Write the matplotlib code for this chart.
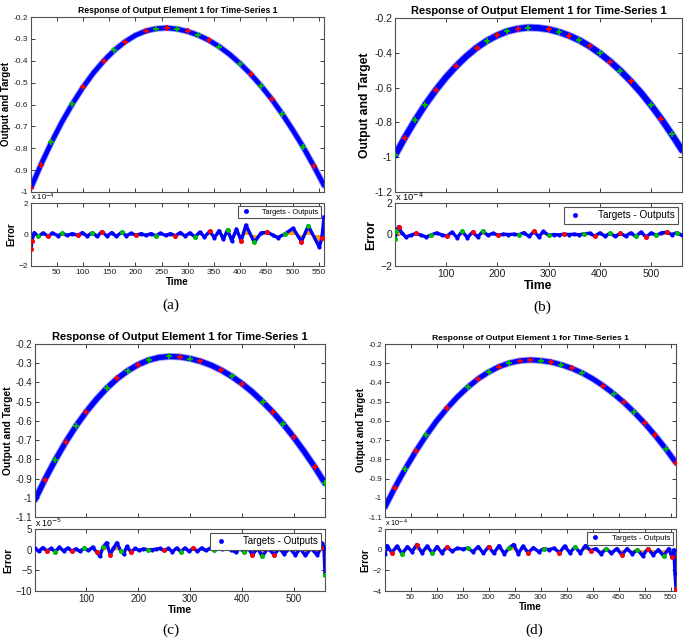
import numpy as np
import matplotlib
matplotlib.use('Agg')
import matplotlib.pyplot as plt
from matplotlib.lines import Line2D

plt.rcParams['font.family'] = ['Liberation Sans', 'DejaVu Sans']

# ---------------- data ----------------
# main response curves sampled every 20 time steps
t_main = [1, 20, 40, 60, 80, 100, 120, 140, 160, 180, 200, 220, 240, 260, 280,
          300, 320, 340, 360, 380, 400, 420, 440, 460, 480, 500, 520, 540, 560]

resp_a = [-0.980, -0.875, -0.773, -0.680, -0.597, -0.522, -0.456, -0.400, -0.352, -0.314,
          -0.284, -0.264, -0.253, -0.250, -0.255, -0.266, -0.283, -0.306, -0.335, -0.371,
          -0.413, -0.461, -0.515, -0.575, -0.642, -0.715, -0.793, -0.879, -0.970]
resp_b = [-0.990, -0.888, -0.789, -0.698, -0.616, -0.542, -0.477, -0.420, -0.371, -0.331,
          -0.300, -0.276, -0.262, -0.255, -0.257, -0.265, -0.280, -0.301, -0.328, -0.362,
          -0.403, -0.450, -0.503, -0.563, -0.629, -0.702, -0.782, -0.868, -0.960]
resp_c = [-1.010, -0.905, -0.804, -0.711, -0.627, -0.552, -0.486, -0.428, -0.379, -0.339,
          -0.307, -0.284, -0.270, -0.265, -0.267, -0.276, -0.290, -0.310, -0.336, -0.368,
          -0.406, -0.450, -0.501, -0.556, -0.618, -0.686, -0.760, -0.839, -0.925]
resp_d = [-1.048, -0.947, -0.849, -0.759, -0.676, -0.601, -0.535, -0.476, -0.425, -0.381,
          -0.346, -0.318, -0.299, -0.287, -0.283, -0.286, -0.294, -0.308, -0.327, -0.351,
          -0.381, -0.417, -0.458, -0.504, -0.556, -0.613, -0.676, -0.744, -0.818]

# indices of test (red) and validation (green) samples on the response curves
red_a = [0, 1, 2, 5, 7, 9, 11, 13, 15, 17, 21, 23, 27]
green_a = [2, 4, 8, 12, 14, 16, 18, 20, 22, 24, 26]
red_b = [0, 1, 4, 6, 8, 10, 12, 15, 17, 19, 21, 23, 26]
green_b = [0, 2, 3, 9, 11, 13, 16, 18, 20, 22, 25, 27]
red_c = [1, 3, 5, 8, 10, 14, 16, 18, 20, 23, 25, 27]
green_c = [2, 4, 7, 9, 11, 13, 15, 19, 22, 24, 28]
red_d = [1, 3, 6, 9, 11, 13, 14, 16, 18, 21, 23, 25, 26, 28]
green_d = [2, 4, 8, 10, 12, 15, 17, 19, 22, 24, 27]

# error curves (extrema of the oscillation), units of the axis multiplier
err_t_a = [1, 3, 7, 15, 24, 34, 42, 52, 61, 70, 80, 90, 99, 108, 118, 127, 136, 146, 155,
           164, 174, 183, 192, 202, 211, 220, 230, 239, 248, 258, 267, 276, 286, 295, 304,
           314, 323, 332, 342, 351, 360, 368, 376, 384, 393, 402, 411, 427, 440, 452, 463,
           472, 486, 501, 517, 530, 551, 556, 560]
err_v_a = [-0.9, -0.4, 0.12, -0.12, 0.1, -0.12, 0.1, -0.08, 0.08, -0.06, 0.06, -0.06, 0.12,
           -0.1, 0.12, -0.12, 0.18, -0.1, 0.12, -0.12, 0.15, -0.08, 0.08, -0.06, 0.06, -0.06,
           0.06, -0.08, 0.08, -0.06, 0.06, -0.08, 0.12, -0.1, 0.1, -0.15, 0.15, -0.15, 0.2,
           -0.2, 0.25, -0.3, 0.3, -0.4, 0.35, -0.4, 0.6, -0.5, 0.1, 0.15, -0.05, -0.2, 0.05,
           0.4, -0.45, 0.55, -0.8, -0.2, 1.1]

err_t_b = [1, 3, 8, 14, 22, 32, 42, 52, 62, 72, 82, 92, 102, 112, 122, 132, 142, 152, 162,
           172, 182, 192, 202, 212, 222, 232, 242, 252, 262, 272, 281, 290, 300, 310, 320,
           330, 340, 350, 360, 370, 380, 390, 400, 410, 420, 430, 440, 450, 460, 470, 480,
           490, 500, 510, 520, 530, 540, 550, 560]
err_v_b = [-0.3, 0.2, 0.5, 0.1, -0.15, -0.05, 0.08, -0.05, -0.15, -0.02, 0.1, -0.02, -0.1,
           0.15, -0.2, 0.2, -0.2, 0.15, -0.15, 0.2, -0.05, 0.08, -0.05, 0.02, 0.0, 0.02,
           -0.02, 0.12, -0.12, 0.2, -0.15, 0.2, -0.05, 0.0, -0.02, 0.02, 0.0, 0.02, -0.02,
           0.05, 0.08, -0.1, 0.1, -0.1, 0.08, -0.12, 0.08, -0.1, 0.1, -0.12, 0.15, -0.15,
           0.1, -0.05, 0.1, 0.15, 0.0, 0.12, -0.05]

err_t_c = [1, 8, 16, 24, 32, 40, 48, 56, 64, 72, 80, 88, 96, 104, 112, 120, 126, 132, 139,
           146, 152, 159, 166, 172, 178, 186, 194, 202, 210, 218, 226, 234, 242, 250, 258,
           266, 274, 282, 290, 298, 306, 314, 322, 330, 338, 346, 354, 362, 370, 378, 388,
           396, 404, 412, 420, 430, 439, 450, 462, 472, 481, 492, 503, 512, 522, 533, 545,
           552, 555, 558, 560]
err_v_c = [0.3, -0.4, 0.5, -0.3, 0.3, -0.5, 0.6, -0.3, 0.4, -0.3, 0.2, -0.4, 0.4, -0.2,
           0.6, -0.6, -1.6, 0.6, 1.7, -1.2, 0.3, 1.7, -0.3, -1.0, 0.8, -0.6, 0.3, -0.2, 0.2,
           0.0, 0.0, 0.1, 0.3, -0.2, 0.3, -0.5, 0.4, -0.5, 0.4, -0.4, 0.4, -0.4, 0.4, -0.2,
           0.3, 0.0, 0.3, 0.1, 0.3, 0.0, -0.6, 0.3, -0.6, 0.3, -1.2, 0.3, -1.6, 0.3, -1.2,
           0.3, -1.0, 0.3, -1.3, 0.3, -1.4, 0.3, -1.3, 0.4, 1.5, 0.5, -6.2]

err_t_d = [1, 5, 14, 24, 34, 44, 53, 62, 72, 82, 92, 101, 110, 120, 130, 140, 150, 160,
           170, 180, 190, 200, 210, 220, 230, 240, 248, 257, 266, 276, 286, 296, 306, 316,
           326, 336, 346, 356, 366, 376, 386, 396, 406, 416, 426, 436, 446, 456, 466, 476,
           486, 496, 506, 516, 526, 536, 546, 552, 556, 558, 560]
err_v_d = [-0.4, 0.4, -0.3, 0.35, -0.4, 0.3, -0.2, 0.5, -0.3, 0.35, -0.35, 0.3, -0.3, 0.25,
           -0.15, 0.15, 0.05, 0.15, -0.2, 0.3, -0.35, 0.3, -0.35, 0.4, -0.4, 0.2, 0.5, -0.4,
           0.35, -0.3, 0.2, -0.2, 0.1, 0.0, 0.15, -0.3, 0.35, -0.3, 0.25, -0.3, 0.4, -0.1,
           0.1, -0.4, 0.1, -0.35, 0.1, -0.5, 0.1, -0.4, 0.0, -0.6, 0.1, -0.5, 0.0, -0.6, 0.1,
           -0.7, 0.0, -2.3, -3.8]

# indices of red / green samples on the error curves
ered_a = [0, 1, 5, 11, 16, 23, 31, 38, 45, 49, 54, 57]
egreen_a = [3, 8, 14, 20, 27, 35, 42, 47, 52, 55]
ered_b = [2, 6, 12, 17, 22, 29, 35, 41, 46, 51, 55]
egreen_b = [0, 1, 9, 15, 19, 26, 32, 39, 44, 49, 53, 57]
ered_c = [3, 9, 15, 19, 25, 33, 40, 48, 54, 58, 63, 67]
egreen_c = [5, 12, 17, 22, 29, 37, 45, 52, 56, 61, 65, 70]
ered_d = [2, 7, 13, 21, 29, 35, 41, 47, 52, 57, 60]
egreen_d = [4, 10, 17, 25, 32, 38, 44, 50, 55]

# ---------------- layout ----------------
W, H = 685, 639
fig = plt.figure(figsize=(W / 100, H / 100), dpi=100)


def rect(l, t, r, b):
    return [l / W, 1 - b / H, (r - l) / W, (b - t) / H]


BLUE = '#0000ff'
RED = '#ff0000'
GREEN = '#00c000'
ORANGE = '#ffa000'
FRAME = '#505050'


def style(ax, fs):
    for s in ax.spines.values():
        s.set_color(FRAME)
        s.set_linewidth(0.8)
    ax.tick_params(direction='in', top=True, right=True, length=3, width=0.6,
                   labelsize=fs, pad=2, colors='#202020')


def panel(main_box, err_box, resp, red, green, et, ev, ered, egreen,
          ylim, yticks, ylabels, elim, eticks, xticks, expo, sc, band, cap, cap_xy):
    fs_tick, fs_title, fs_lab, fs_leg = sc
    ax = fig.add_axes(rect(*main_box))
    r = np.array(resp)
    t = np.array(t_main)
    ax.plot(t, r, color='#9a9aff', lw=band + 1.3, solid_capstyle='round', zorder=1)
    ax.plot(t, r, color=BLUE, lw=band, solid_capstyle='round', zorder=2)
    ax.plot(t[red], r[red], '+', color=RED, ms=5, mew=1.3, zorder=3)
    ax.plot(t[green], r[green], '+', color=GREEN, ms=5, mew=1.3, zorder=3)
    ax.set_xlim(1, 560)
    ax.set_ylim(*ylim)
    ax.set_yticks(yticks)
    ax.set_yticklabels(ylabels)
    ax.set_xticks(xticks)
    ax.set_xticklabels([])
    ax.set_title('Response of Output Element 1 for Time-Series 1', fontsize=fs_title,
                 fontweight='bold', pad=3)
    ax.set_ylabel('Output and Target', fontsize=fs_lab, fontweight='bold', labelpad=2)
    style(ax, fs_tick)

    ex = fig.add_axes(rect(*err_box))
    et = np.array(et)
    ev = np.array(ev)
    ex.fill_between(et, ev, 0, color=ORANGE, lw=0, zorder=1)
    ex.plot(et, ev, color=BLUE, lw=2.4, zorder=2)
    ex.plot(et, ev, '.', color=BLUE, ms=4, zorder=3)
    ex.plot(et[ered], ev[ered], '.', color=RED, ms=5, zorder=4)
    ex.plot(et[egreen], ev[egreen], '.', color=GREEN, ms=5, zorder=4)
    ex.set_xlim(1, 560)
    ex.set_ylim(*elim)
    ex.set_yticks(eticks)
    ex.set_xticks(xticks)
    ex.set_xlabel('Time', fontsize=fs_lab, fontweight='bold', labelpad=1)
    ex.set_ylabel('Error', fontsize=fs_lab, fontweight='bold', labelpad=2)
    ex.text(0.0, 1.0, r'x 10$^{%d}$' % expo, transform=ex.transAxes, fontsize=fs_tick * 0.9,
            ha='left', va='bottom')
    h = Line2D([], [], marker='.', color=BLUE, ls='none', ms=5)
    leg = ex.legend([h], ['Targets - Outputs'], loc='upper right', fontsize=fs_leg,
                    fancybox=False, framealpha=1, edgecolor=FRAME, borderaxespad=0.4,
                    handletextpad=1.5, handlelength=1.5, borderpad=0.35)
    leg.get_frame().set_linewidth(0.8)
    style(ex, fs_tick)
    fig.text(cap_xy[0] / W, 1 - cap_xy[1] / H, cap, family='Liberation Serif',
             fontsize=11, ha='center', va='center')


lab_a = ['-1', '-0.9', '-0.8', '-0.7', '-0.6', '-0.5', '-0.4', '-0.3', '-0.2']
lab_b = ['-1.2', '-1', '-0.8', '-0.6', '-0.4', '-0.2']
lab_c = ['-1.1', '-1', '-0.9', '-0.8', '-0.7', '-0.6', '-0.5', '-0.4', '-0.3', '-0.2']
ticks50 = list(range(50, 551, 50))
ticks100 = list(range(100, 501, 100))

panel((31, 17, 324, 192), (31, 203, 324, 266), resp_a, red_a, green_a,
      err_t_a, err_v_a, ered_a, egreen_a,
      (-1, -0.2), np.linspace(-1, -0.2, 9), lab_a, (-2, 2), [-2, 0, 2], ticks50, -4,
      (6, 6.2, 7, 5.3), 3.3, '(a)', (171, 305))
panel((395, 18, 682, 192), (395, 203, 682, 266), resp_b, red_b, green_b,
      err_t_b, err_v_b, ered_b, egreen_b,
      (-1.2, -0.2), np.linspace(-1.2, -0.2, 6), lab_b, (-2, 2), [-2, 0, 2], ticks100, -4,
      (7.5, 8.0, 8.8, 7.2), 4.3, '(b)', (542, 307))
panel((35, 344, 325, 517), (35, 529, 325, 591), resp_c, red_c, green_c,
      err_t_c, err_v_c, ered_c, egreen_c,
      (-1.1, -0.2), np.linspace(-1.1, -0.2, 10), lab_c, (-10, 5), [-10, -5, 0, 5], ticks100, -5,
      (7, 8.0, 7.4, 7), 3.8, '(c)', (171, 630))
panel((385, 344, 676, 517), (385, 529, 676, 591), resp_d, red_d, green_d,
      err_t_d, err_v_d, ered_d, egreen_d,
      (-1.1, -0.2), np.linspace(-1.1, -0.2, 10), lab_c, (-4, 2), [-4, -2, 0, 2], ticks50, -4,
      (5.8, 6.1, 7, 5.4), 3.5, '(d)', (534, 630))

fig.savefig('out.png', dpi=100)
